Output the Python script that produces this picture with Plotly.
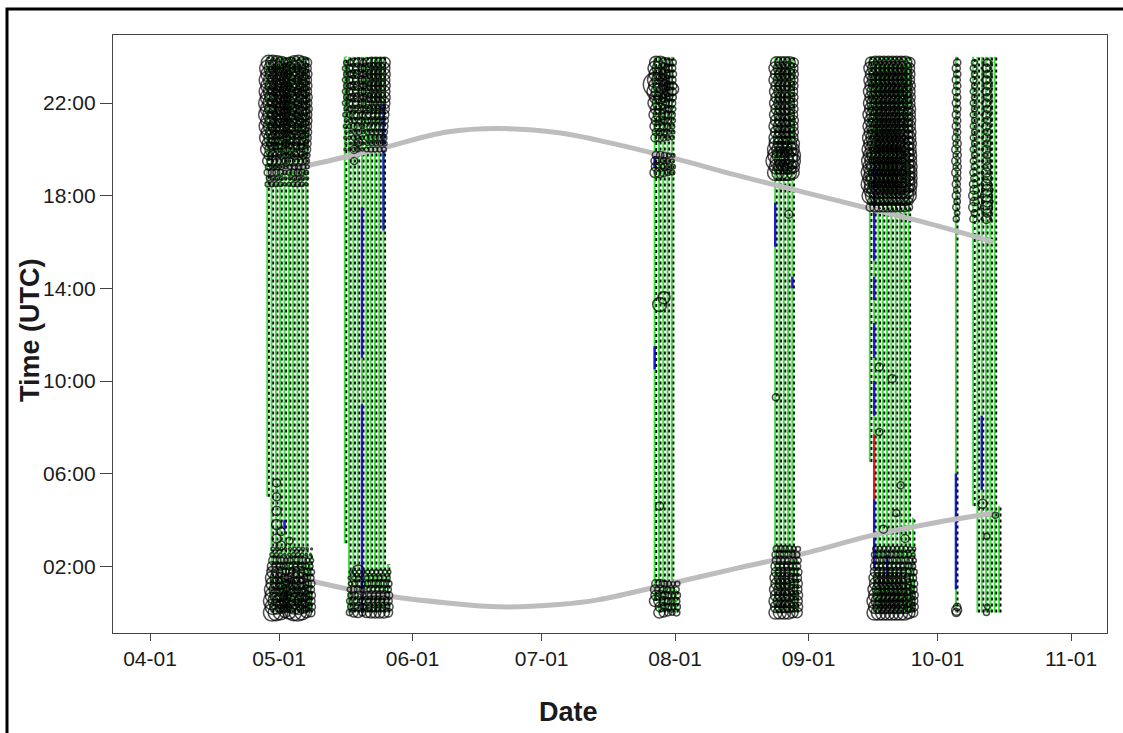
import plotly.graph_objects as go
import pandas as pd

# ---------------- data ----------------
# recording periods (one vertical line per day)
PERIOD_START = ["2021-04-28", "2021-05-16", "2021-07-27", "2021-08-24", "2021-09-15", "2021-10-05", "2021-10-09"]
PERIOD_END = ["2021-05-08", "2021-05-26", "2021-08-01", "2021-08-29", "2021-09-25", "2021-10-05", "2021-10-15"]
FIRST_DAY_START_H = [5.0, 3.0, 0.5, 0.0, 6.5, 0.0, 4.6]
LAST_DAY_END_H = [2.6, 2.1, 1.0, 2.5, 4.1, 24.0, 4.6]

# half-hourly sampling bins of the day (category axis of the profiles)
HALF_HOURS = [k / 2 for k in range(48)]

# circle size profile per period (half-hourly bins, 0 = no circle)
PROFILE_P1 = ([17, 17, 15, 13, 9, 4, 0, 0, 0, 0, 0, 0] + [0, 0, 0, 0, 0, 0, 0, 0, 0, 0, 0, 0]
              + [0, 0, 0, 0, 0, 0, 0, 0, 0, 0, 0, 0] + [0, 5, 7, 10, 14, 16, 17, 18, 18, 17, 17, 16])
PROFILE_P2 = ([11, 10, 8, 5, 0, 0, 0, 0, 0, 0, 0, 0] + [0, 0, 0, 0, 0, 0, 0, 0, 0, 0, 0, 0]
              + [0, 0, 0, 0, 0, 0, 0, 0, 0, 0, 0, 0] + [0, 0, 0, 0, 5, 6, 8, 10, 12, 12, 12, 12])
PROFILE_P3 = ([11, 11, 9, 0, 0, 0, 0, 0, 0, 0, 0, 0] + [0, 0, 0, 0, 0, 0, 0, 0, 0, 0, 0, 0]
              + [0, 0, 0, 0, 0, 0, 0, 0, 0, 0, 0, 0] + [0, 0, 10, 8, 0, 8, 10, 12, 14, 16, 15, 14])
PROFILE_P4 = ([13, 13, 12, 11, 9, 7, 0, 0, 0, 0, 0, 0] + [0, 0, 0, 0, 0, 0, 0, 0, 0, 0, 0, 0]
              + [0, 0, 0, 0, 0, 0, 0, 0, 0, 0, 0, 0] + [0, 0, 16, 19, 16, 13, 13, 12, 12, 12, 13, 13])
PROFILE_P5 = ([15, 15, 13, 11, 8, 6, 0, 0, 0, 0, 0, 0] + [0, 0, 0, 0, 0, 0, 0, 0, 0, 0, 0, 0]
              + [0, 0, 0, 0, 0, 0, 0, 0, 0, 0, 0, 9] + [18, 20, 20, 19, 18, 17, 16, 16, 15, 15, 14, 14])
PROFILE_P6 = ([8, 0, 0, 0, 0, 0, 0, 0, 0, 0, 0, 0] + [0, 0, 0, 0, 0, 0, 0, 0, 0, 0, 0, 0]
              + [0, 0, 0, 0, 0, 0, 0, 0, 0, 0, 6, 7] + [8, 8, 9, 9, 9, 8, 8, 8, 8, 8, 8, 8])
PROFILE_P7 = ([6, 0, 0, 0, 0, 0, 0, 0, 0, 0, 0, 0] + [0, 0, 0, 0, 0, 0, 0, 0, 0, 0, 0, 0]
              + [0, 0, 0, 0, 0, 0, 0, 0, 0, 0, 9, 12] + [12, 10, 9, 8, 8, 8, 8, 8, 8, 8, 8, 8])
PROFILES = [PROFILE_P1, PROFILE_P2, PROFILE_P3, PROFILE_P4, PROFILE_P5, PROFILE_P6, PROFILE_P7]

# relative activity of each day inside its period
DAY_WEIGHTS = [
    [1.0, 1.0, 0.95, 0.85, 0.6, 0.75, 0.95, 1.0, 0.85, 0.6, 0.5],
    [0.45, 0.55, 0.8, 0.9, 0.6, 0.9, 1.0, 1.0, 1.0, 1.0, 0.8],
    [1.0, 1.0, 0.8, 0.6, 0.5, 0.6],
    [1.0, 1.0, 1.0, 1.0, 0.8, 0.8],
    [0.9, 1.0, 1.0, 1.0, 1.0, 1.0, 1.0, 1.0, 1.0, 0.8, 0.6],
    [1.0],
    [0.8, 0.0, 0.25, 1.0, 0.25, 0.0, 0.0],
]

# isolated circles
EXTRA_DATE = ["2021-07-27", "2021-07-28", "2021-07-29", "2021-07-28", "2021-07-31",
              "2021-08-27", "2021-08-24", "2021-09-17", "2021-09-20", "2021-10-05", "2021-10-11",
              "2021-04-30", "2021-04-30", "2021-04-30", "2021-04-30", "2021-04-30", "2021-05-01",
              "2021-05-01", "2021-05-03", "2021-05-19", "2021-09-18", "2021-09-21", "2021-09-23",
              "2021-09-17", "2021-09-22", "2021-10-12", "2021-10-14", "2021-05-18", "2021-05-18",
              "2021-05-19"]
EXTRA_HOUR = [22.8, 13.3, 13.6, 4.6, 22.6, 17.2, 9.3, 10.6, 10.1, 0.1, 4.7,
              3.2, 3.8, 4.4, 5.0, 5.6, 2.9, 3.5, 3.1, 1.8, 3.6, 4.3, 3.2,
              7.8, 5.5, 3.3, 4.2, 20.0, 19.5, 20.3]
EXTRA_SIZE = [24, 14, 12, 8, 12, 8, 7, 8, 8, 10, 9,
              9, 10, 9, 8, 8, 9, 8, 7, 12, 8, 7, 8,
              7, 7, 6, 6, 8, 7, 8]

# blue / red classified segments (date, start hour, end hour)
BLUE_DATE = ["2021-05-02", "2021-05-20", "2021-05-20", "2021-05-25", "2021-07-27", "2021-07-27",
             "2021-08-24", "2021-08-28", "2021-09-16", "2021-09-16", "2021-09-16", "2021-09-16",
             "2021-09-16", "2021-09-19", "2021-10-05", "2021-10-11"]
BLUE_H0 = [3.6, 0.0, 11.0, 16.5, 19.2, 10.5, 15.8, 14.0, 15.2, 1.9, 8.5, 11.0, 13.5, 1.5, 1.0, 5.3]
BLUE_H1 = [4.0, 9.0, 17.5, 22.0, 19.8, 11.5, 17.7, 14.5, 19.4, 4.9, 10.0, 12.5, 14.5, 2.5, 6.0, 8.5]
RED_DATE = ["2021-09-16"]
RED_H0 = [4.9]
RED_H1 = [7.7]

# sunset / sunrise curves
SUN_DATES = ["2021-04-28", "2021-05-10", "2021-05-25", "2021-06-09", "2021-06-21", "2021-07-05",
             "2021-07-14", "2021-08-01", "2021-08-15", "2021-09-01", "2021-09-15", "2021-10-01", "2021-10-14"]
SUNSET_H = [18.95, 19.4, 20.06, 20.75, 20.9, 20.72, 20.4, 19.6, 18.9, 18.1, 17.45, 16.7, 16.0]
SUNRISE_H = [1.9, 1.3, 0.75, 0.42, 0.25, 0.35, 0.55, 1.3, 1.9, 2.6, 3.3, 3.9, 4.3]

Y_TICKS = [2, 6, 10, 14, 18, 22]
Y_TICK_TEXT = ["02:00", "06:00", "10:00", "14:00", "18:00", "22:00"]

# ---------------- build traces ----------------
GREEN = "#3ee03e"
BLUE = "#1c1cd0"
RED = "#e0201c"

green_x, green_y, dot_x, dot_y = [], [], [], []
cx, cy, cs = [], [], []
for p in range(len(PERIOD_START)):
    days = pd.date_range(PERIOD_START[p], PERIOD_END[p], freq="D")
    n = len(days)
    for i, d in enumerate(days):
        h0 = FIRST_DAY_START_H[p] if i == 0 else 0.0
        h1 = LAST_DAY_END_H[p] if i == n - 1 else 24.0
        xg = d + pd.Timedelta(hours=6)
        green_x += [xg, xg, None]
        green_y += [h0, h1, None]
        xb = d + pd.Timedelta(hours=15)
        dot_x += [xb, xb, None]
        dot_y += [h0, h1, None]
        for k, h in enumerate(HALF_HOURS):
            s = PROFILES[p][k] * DAY_WEIGHTS[p][i]
            if s >= 2 and h0 <= h <= h1:
                # each half-hour bin drawn as two detections within the bin
                cx += [d + pd.Timedelta(hours=8), d + pd.Timedelta(hours=13)]
                cy += [h, h + 0.25]
                cs += [s, s * 0.9]

for d, h, s in zip(EXTRA_DATE, EXTRA_HOUR, EXTRA_SIZE):
    cx.append(pd.Timestamp(d) + pd.Timedelta(hours=10))
    cy.append(h)
    cs.append(s)


def seg(dates, h0s, h1s):
    xs, ys = [], []
    for d, a, b in zip(dates, h0s, h1s):
        x = pd.Timestamp(d) + pd.Timedelta(hours=6)
        xs += [x, x, None]
        ys += [a, b, None]
    return xs, ys


bx, by = seg(BLUE_DATE, BLUE_H0, BLUE_H1)
rx, ry = seg(RED_DATE, RED_H0, RED_H1)

fig = go.Figure()
fig.add_trace(go.Scatter(x=green_x, y=green_y, mode="lines",
                         line=dict(color=GREEN, width=2), hoverinfo="skip"))
fig.add_trace(go.Scatter(x=bx, y=by, mode="lines",
                         line=dict(color=BLUE, width=2.4), hoverinfo="skip"))
fig.add_trace(go.Scatter(x=rx, y=ry, mode="lines",
                         line=dict(color=RED, width=2.4), hoverinfo="skip"))
fig.add_trace(go.Scatter(x=dot_x, y=dot_y, mode="lines",
                         line=dict(color="black", width=1.8, dash="3px,3px"), hoverinfo="skip"))
fig.add_trace(go.Scatter(x=pd.to_datetime(SUN_DATES), y=SUNSET_H, mode="lines",
                         line=dict(color="#bdbdbd", width=5, shape="spline")))
fig.add_trace(go.Scatter(x=pd.to_datetime(SUN_DATES), y=SUNRISE_H, mode="lines",
                         line=dict(color="#bdbdbd", width=5, shape="spline")))
fig.add_trace(go.Scatter(x=cx, y=cy, mode="markers",
                         marker=dict(symbol="circle-open", color="black", size=cs,
                                     line=dict(width=1.5, color="black")),
                         hoverinfo="skip"))

# ---------------- layout ----------------
L, R, T, B = 113, 16, 35, 100
W, H = 1123, 733
pw, ph = W - L - R, H - T - B


def px_x(x):
    return (x - L) / pw


def px_y(y):
    return (H - B - y) / ph


fig.update_layout(
    width=W, height=H,
    margin=dict(l=L, r=R, t=T, b=B),
    paper_bgcolor="white", plot_bgcolor="white",
    showlegend=False,
    font=dict(family="Liberation Sans, Arial, sans-serif", color="#1a1a1a"),
    xaxis=dict(
        type="date",
        range=["2021-03-23 09:36", "2021-11-09 08:24"],
        tick0="2021-04-01", dtick="M1", tickformat="%m-%d",
        ticks="outside", ticklen=7, tickwidth=1.3, tickcolor="#444",
        tickfont=dict(size=21, color="#1a1a1a"),
        showline=True, linecolor="#444", linewidth=1.3, mirror=True,
        showgrid=False, zeroline=False,
    ),
    yaxis=dict(
        range=[-0.88, 24.94],
        tickvals=Y_TICKS, ticktext=Y_TICK_TEXT,
        ticks="outside", ticklen=12, tickwidth=1.3, tickcolor="#444",
        tickfont=dict(size=21, color="#1a1a1a"),
        showline=True, linecolor="#444", linewidth=1.3, mirror=True,
        showgrid=False, zeroline=False,
    ),
    annotations=[
        dict(text="<b>Time (UTC)</b>", textangle=-90, xref="paper", yref="paper",
             x=px_x(30), y=px_y(330), showarrow=False, xanchor="center", yanchor="middle",
             font=dict(size=27, color="#1a1a1a")),
        dict(text="<b>Date</b>", xref="paper", yref="paper",
             x=px_x(568), y=px_y(712), showarrow=False, xanchor="center", yanchor="middle",
             font=dict(size=27, color="#1a1a1a")),
    ],
    shapes=[
        dict(type="rect", xref="paper", yref="paper",
             x0=px_x(7), x1=px_x(1128), y0=px_y(740), y1=px_y(9),
             line=dict(color="black", width=3), fillcolor="rgba(0,0,0,0)", layer="above"),
    ],
)

fig.write_html("out.html")
